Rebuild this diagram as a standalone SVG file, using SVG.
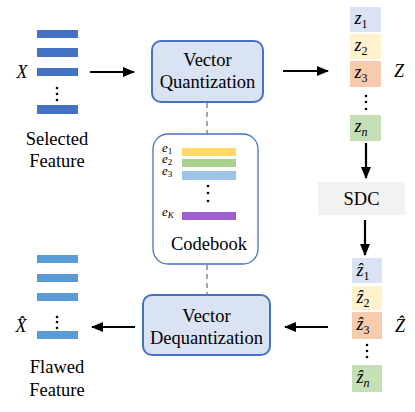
<svg xmlns="http://www.w3.org/2000/svg" width="415" height="412" viewBox="0 0 415 412" font-family="Liberation Serif, DejaVu Serif, serif">
<defs>
<marker id="ah" markerUnits="userSpaceOnUse" markerWidth="12" markerHeight="10" refX="11" refY="5" orient="auto">
<path d="M0,0 L12,5 L0,10 Z" fill="#000"/>
</marker>
<style>
.t{font-size:18.5px;fill:#000;text-anchor:middle}
.m{font-style:italic;fill:#000}
.box{fill:#dae3f3;stroke:#4472c4;stroke-width:2}
.arr{stroke:#000;stroke-width:2.2;fill:none;marker-end:url(#ah)}
.dash{stroke:#a6a6a6;stroke-width:2;stroke-dasharray:5,4;fill:none}
.dot{fill:#000}
.bt{fill:#4472c4}
.bb{fill:#5b9bd5}
</style>
</defs>
<rect width="415" height="412" fill="#fff"/>

<g id="connectors">
<line class="dash" x1="207" y1="103" x2="207" y2="134"/>
<line class="dash" x1="207" y1="265" x2="207" y2="295"/>
<line class="arr" x1="90" y1="72" x2="134" y2="72"/>
<line class="arr" x1="283" y1="71" x2="328" y2="71"/>
<line class="arr" x1="366" y1="143" x2="366" y2="178"/>
<line class="arr" x1="365" y1="220" x2="365" y2="255"/>
<line class="arr" x1="328" y1="327" x2="285" y2="327"/>
<line class="arr" x1="135" y1="327" x2="92" y2="327"/>
</g>

<g id="selected-feature">
<rect class="bt" x="37" y="30" width="41" height="8"/>
<rect class="bt" x="37" y="48" width="41" height="9"/>
<rect class="bt" x="37" y="68" width="41" height="8"/>
<rect class="bt" x="37" y="105" width="41" height="9"/>
<circle class="dot" cx="57" cy="88" r="1.3"/>
<circle class="dot" cx="57" cy="94" r="1.3"/>
<circle class="dot" cx="57" cy="100" r="1.3"/>
<text class="m" x="22" y="78" font-size="18" text-anchor="middle">X</text>
<text class="t" x="57" y="145">Selected</text>
<text class="t" x="57" y="167">Feature</text>
</g>

<g id="vector-quantization">
<rect class="box" x="152" y="41" width="111" height="61" rx="9"/>
<text class="t" x="207.5" y="66">Vector</text>
<text class="t" x="207.5" y="88">Quantization</text>
</g>

<g id="codebook">
<rect x="153" y="134" width="105" height="130" rx="15" fill="#fff" stroke="#4472c4" stroke-width="1.3"/>
<rect x="182" y="148" width="54" height="8" fill="#ffd966"/>
<rect x="182" y="159" width="54" height="8" fill="#a9d18e"/>
<rect x="182" y="171" width="54" height="9" fill="#9dc3e6"/>
<rect x="182" y="212" width="54" height="8" fill="#a05fd0"/>
<circle class="dot" cx="208" cy="186" r="1.3"/>
<circle class="dot" cx="208" cy="193" r="1.3"/>
<circle class="dot" cx="208" cy="201" r="1.3"/>
<text class="m" x="162" y="152" font-size="13">e<tspan font-size="9" dy="2" font-style="normal">1</tspan></text>
<text class="m" x="162" y="163" font-size="13">e<tspan font-size="9" dy="2" font-style="normal">2</tspan></text>
<text class="m" x="162" y="175" font-size="13">e<tspan font-size="9" dy="2" font-style="normal">3</tspan></text>
<text class="m" x="162" y="216" font-size="13">e<tspan font-size="9" dy="2">K</tspan></text>
<text class="t" x="209" y="250">Codebook</text>
</g>

<g id="z-vector">
<rect x="350" y="7" width="31" height="25" fill="#dae3f3"/>
<rect x="350" y="34" width="31" height="25" fill="#fff2cc"/>
<rect x="350" y="61" width="31" height="26" fill="#f8cbad"/>
<rect x="350" y="115" width="31" height="26" fill="#c5e0b4"/>
<circle class="dot" cx="366" cy="96" r="1.3"/>
<circle class="dot" cx="366" cy="102" r="1.3"/>
<circle class="dot" cx="366" cy="109" r="1.3"/>
<text class="m" x="361" y="24" font-size="18" text-anchor="middle">z<tspan font-size="12" dy="4" font-style="normal">1</tspan></text>
<text class="m" x="361" y="51" font-size="18" text-anchor="middle">z<tspan font-size="12" dy="4" font-style="normal">2</tspan></text>
<text class="m" x="361" y="78" font-size="18" text-anchor="middle">z<tspan font-size="12" dy="4" font-style="normal">3</tspan></text>
<text class="m" x="361" y="132" font-size="18" text-anchor="middle">z<tspan font-size="12" dy="4">n</tspan></text>
<text class="m" x="399" y="77" font-size="18" text-anchor="middle">Z</text>
</g>

<g id="sdc">
<rect x="318" y="182" width="87" height="33" fill="#f2f2f2"/>
<text class="t" x="361.5" y="205">SDC</text>
</g>

<g id="z-hat-vector">
<rect x="352" y="258" width="30" height="25" fill="#dae3f3"/>
<rect x="352" y="286" width="30" height="24" fill="#fff2cc"/>
<rect x="352" y="312" width="30" height="27" fill="#f8cbad"/>
<rect x="352" y="365" width="30" height="27" fill="#c5e0b4"/>
<circle class="dot" cx="367" cy="345" r="1.3"/>
<circle class="dot" cx="367" cy="351" r="1.3"/>
<circle class="dot" cx="367" cy="357" r="1.3"/>
<text class="m" x="363" y="276" font-size="18" text-anchor="middle">ẑ<tspan font-size="12" dy="4" font-style="normal">1</tspan></text>
<text class="m" x="363" y="303" font-size="18" text-anchor="middle">ẑ<tspan font-size="12" dy="4" font-style="normal">2</tspan></text>
<text class="m" x="363" y="330" font-size="18" text-anchor="middle">ẑ<tspan font-size="12" dy="4" font-style="normal">3</tspan></text>
<text class="m" x="363" y="383" font-size="18" text-anchor="middle">ẑ<tspan font-size="12" dy="4">n</tspan></text>
<text class="m" x="400" y="332" font-size="18" text-anchor="middle">Ẑ</text>
</g>

<g id="vector-dequantization">
<rect class="box" x="143" y="295" width="127" height="60" rx="9"/>
<text class="t" x="206.5" y="322">Vector</text>
<text class="t" x="206.5" y="344">Dequantization</text>
</g>

<g id="flawed-feature">
<rect class="bb" x="37" y="255" width="41" height="8"/>
<rect class="bb" x="37" y="274" width="41" height="8"/>
<rect class="bb" x="37" y="293" width="41" height="8"/>
<rect class="bb" x="37" y="331" width="41" height="8"/>
<circle class="dot" cx="57" cy="317" r="1.3"/>
<circle class="dot" cx="57" cy="322" r="1.3"/>
<circle class="dot" cx="57" cy="328" r="1.3"/>
<text class="m" x="21" y="332" font-size="18" text-anchor="middle">X̂</text>
<text class="t" x="57" y="373">Flawed</text>
<text class="t" x="57" y="396">Feature</text>
</g>
</svg>
